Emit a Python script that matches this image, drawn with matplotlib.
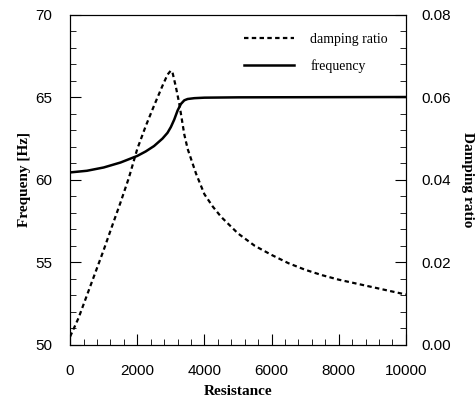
import matplotlib.pyplot as plt
from matplotlib.ticker import MultipleLocator

# damping ratio curve (right axis)
res_damp = [0, 250, 500, 750, 1000, 1250, 1500, 1750, 2000, 2250, 2500, 2750,
            2900, 3000, 3050, 3150, 3250, 3400, 3500, 3750, 4000, 4250, 4500,
            5000, 5500, 6000, 6500, 7000, 7500, 8000, 8500, 9000, 9500, 10000]
damping = [0.002, 0.0065, 0.012, 0.0175, 0.023, 0.0288, 0.0345, 0.0405,
           0.0475, 0.053, 0.058, 0.0628, 0.0655, 0.0665, 0.066, 0.0625,
           0.0585, 0.051, 0.0475, 0.0415, 0.0365, 0.0335, 0.031, 0.027,
           0.024, 0.0218, 0.0198, 0.0182, 0.0169, 0.0158, 0.0149, 0.014,
           0.0131, 0.0122]

# frequency curve (left axis)
res_freq = [0, 500, 1000, 1500, 1750, 2000, 2250, 2500, 2750, 2900, 3000,
            3100, 3200, 3300, 3400, 3500, 3700, 4000, 5000, 10000]
frequency = [60.45, 60.55, 60.75, 61.05, 61.25, 61.45, 61.72, 62.05, 62.5,
             62.85, 63.2, 63.65, 64.2, 64.6, 64.82, 64.9, 64.95, 64.98, 65.0,
             65.02]

serif = ['Liberation Serif', 'DejaVu Serif']
sans = ['Liberation Sans', 'DejaVu Sans']

fig = plt.figure(figsize=(4.77, 4.01), dpi=100)
ax = fig.add_axes([0.147, 0.14, 0.704, 0.823])
ax2 = ax.twinx()

l_freq, = ax.plot(res_freq, frequency, color='black', linewidth=1.8,
                  label='frequency')
l_damp, = ax2.plot(res_damp, damping, color='black', linewidth=1.6,
                   linestyle=(0, (2, 1.5)), label='damping ratio')

ax.set_xlim(0, 10000)
ax.set_ylim(50, 70)
ax2.set_ylim(0, 0.08)

ax.xaxis.set_major_locator(MultipleLocator(2000))
ax.xaxis.set_minor_locator(MultipleLocator(400))
ax.yaxis.set_major_locator(MultipleLocator(5))
ax.yaxis.set_minor_locator(MultipleLocator(1))
ax2.yaxis.set_major_locator(MultipleLocator(0.02))
ax2.yaxis.set_minor_locator(MultipleLocator(0.004))
ax2.yaxis.set_major_formatter(plt.FormatStrFormatter('%.2f'))

ax.tick_params(which='both', direction='in', top=False, right=False,
               labelsize=11)
ax.tick_params(axis='x', pad=14)
ax.tick_params(axis='y', pad=13)
ax.tick_params(which='major', length=8)
ax.tick_params(which='minor', length=4)
ax2.tick_params(which='both', direction='in', labelsize=11, pad=11)
ax2.tick_params(which='major', length=8)
ax2.tick_params(which='minor', length=4)
for lab in ax.get_xticklabels() + ax.get_yticklabels() + ax2.get_yticklabels():
    lab.set_family(sans)

ax.set_xlabel('Resistance', family=serif, fontsize=11, fontweight='bold',
              labelpad=5)
ax.set_ylabel('Frequeny [Hz]', family=serif, fontsize=11, fontweight='bold',
              labelpad=3)
ax2.set_ylabel('Damping ratio', family=serif, fontsize=11, fontweight='bold',
               rotation=270, labelpad=17)

ax2.legend(handles=[l_damp, l_freq], loc='upper right', frameon=False,
           handlelength=3.6, handletextpad=1.2,
           prop={'family': serif, 'size': 10},
           borderaxespad=0.9, labelspacing=0.95)

fig.savefig('out.png', dpi=100)
